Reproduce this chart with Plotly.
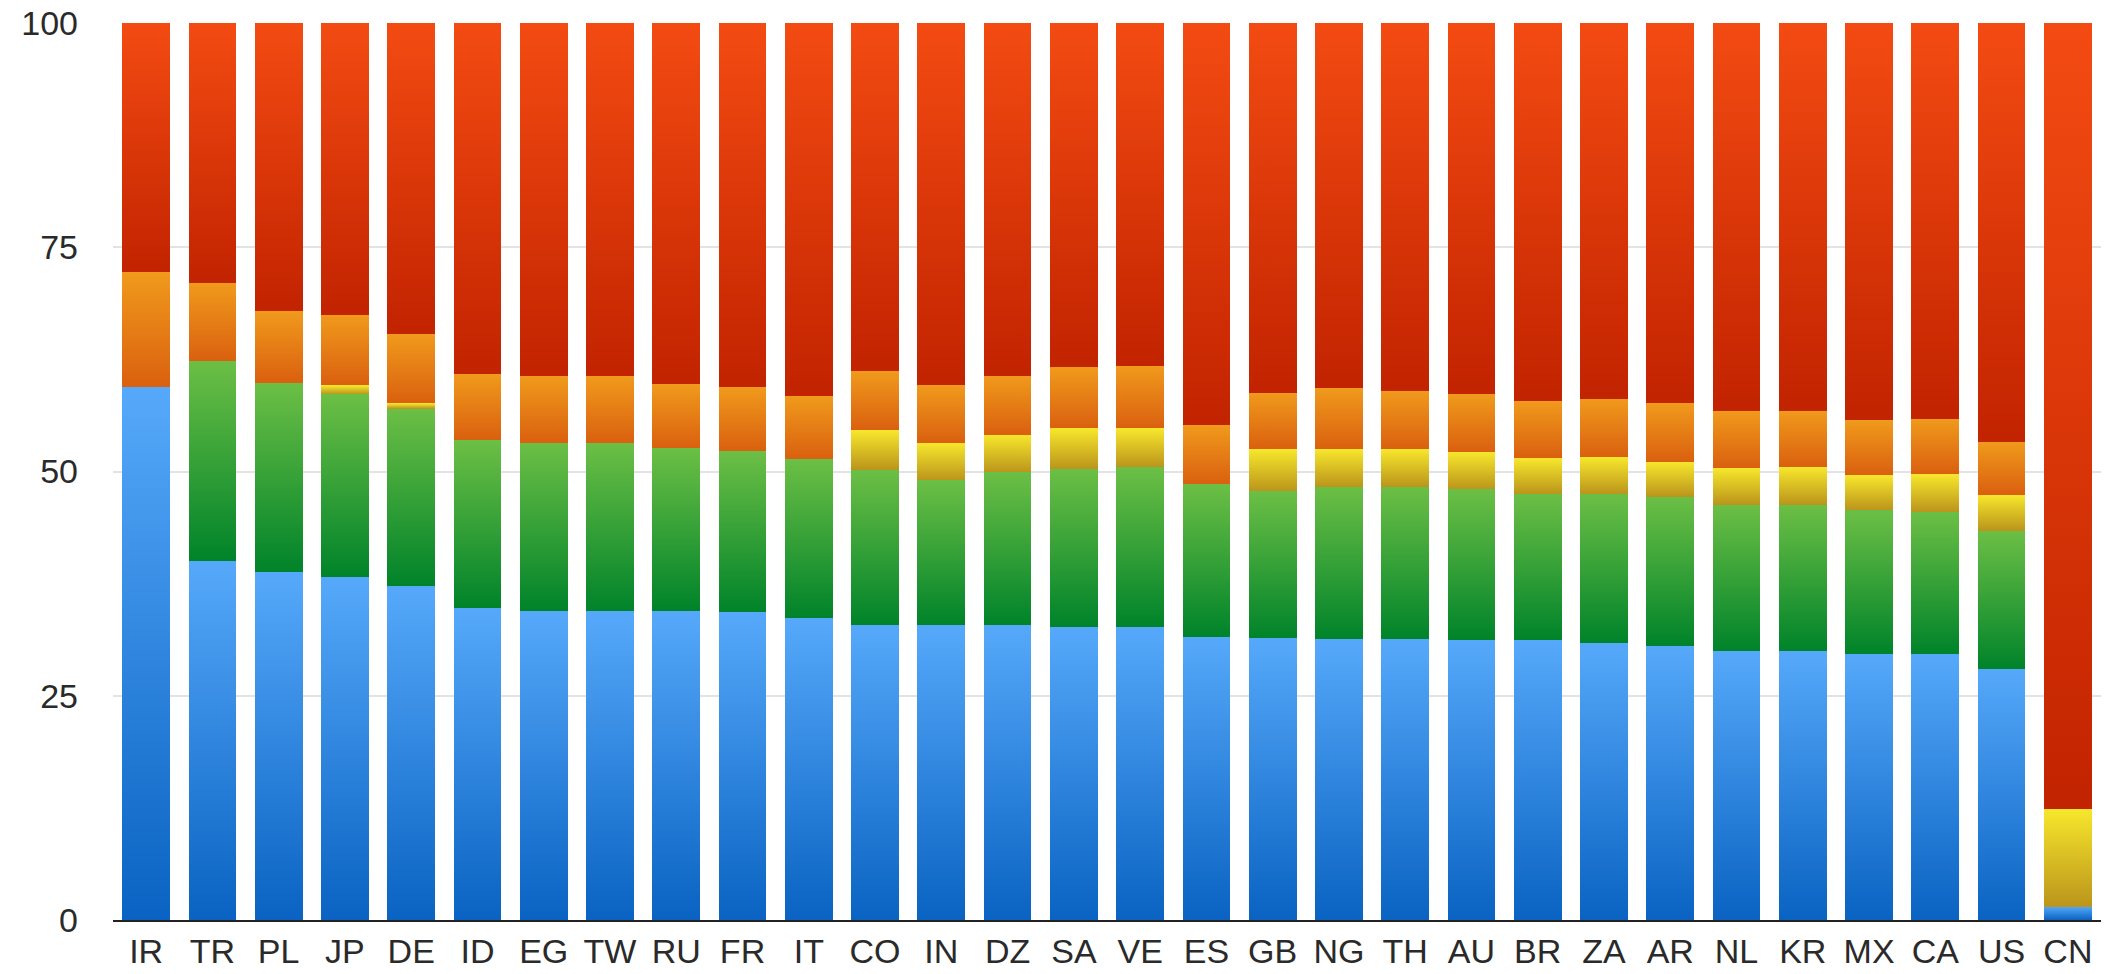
import plotly.graph_objects as go

categories = ["IR", "TR", "PL", "JP", "DE", "ID", "EG", "TW", "RU", "FR", "IT", "CO", "IN", "DZ", "SA",
              "VE", "ES", "GB", "NG", "TH", "AU", "BR", "ZA", "AR", "NL", "KR", "MX", "CA", "US", "CN"]

blue = [59.4, 40.0, 38.8, 38.2, 37.2, 34.8, 34.5, 34.4, 34.5, 34.3, 33.7, 32.9, 32.9, 32.9, 32.7,
        32.7, 31.6, 31.4, 31.3, 31.3, 31.2, 31.2, 30.9, 30.6, 30.0, 30.0, 29.7, 29.7, 28.0, 1.5]
green = [0.0, 22.3, 21.1, 20.4, 19.8, 18.7, 18.7, 18.8, 18.1, 18.0, 17.7, 17.3, 16.1, 17.0, 17.6,
         17.8, 17.0, 16.4, 17.0, 17.0, 16.8, 16.3, 16.6, 16.6, 16.3, 16.3, 16.0, 15.8, 15.4, 0.0]
yellow = [0.0, 0.0, 0.0, 1.0, 0.6, 0.0, 0.0, 0.0, 0.0, 0.0, 0.0, 4.4, 4.2, 4.2, 4.5,
          4.3, 0.0, 4.7, 4.2, 4.2, 4.2, 4.0, 4.1, 3.9, 4.1, 4.2, 3.9, 4.2, 4.0, 10.9]
orange = [12.8, 8.7, 8.0, 7.9, 7.7, 7.4, 7.4, 7.4, 7.1, 7.1, 7.0, 6.6, 6.4, 6.6, 6.8,
          7.0, 6.6, 6.3, 6.8, 6.5, 6.4, 6.4, 6.5, 6.5, 6.4, 6.3, 6.1, 6.2, 5.9, 0.0]
red = [27.8, 29.0, 32.1, 32.5, 34.7, 39.1, 39.4, 39.4, 40.3, 40.6, 41.6, 38.8, 40.4, 39.3, 38.4,
       38.2, 44.8, 41.2, 40.7, 41.0, 41.4, 42.1, 41.9, 42.4, 43.2, 43.2, 44.3, 44.1, 46.7, 87.6]

y_ticks = [0, 25, 50, 75, 100]

series = [("blue", blue), ("green", green), ("yellow", yellow), ("orange", orange), ("red", red)]
mid_colors = {"blue": "#3a8fe6", "green": "#3aa23a", "yellow": "#dcc024", "orange": "#e67e16", "red": "#d8330a"}
grad_stops = {"blue": ("#56a9fa", "#0a63c2"), "green": ("#6cbf45", "#00832a"),
              "yellow": ("#f7e72c", "#bb951b"), "orange": ("#f09a1c", "#da600f"),
              "red": ("#f34b12", "#c22300")}

fig = go.Figure()
for name, vals in series:
    fig.add_trace(go.Bar(x=categories, y=vals, name=name,
                         marker=dict(color=mid_colors[name], line=dict(width=0))))

fig.update_layout(
    barmode="stack", bargap=0.28, showlegend=False,
    width=2113, height=974,
    margin=dict(l=113, r=12, t=23, b=54),
    paper_bgcolor="white", plot_bgcolor="white",
    font=dict(family="Liberation Sans, Arial, sans-serif", size=34, color="#2a2a2a"),
    xaxis=dict(showline=True, linecolor="#222222", linewidth=2, ticks="", showgrid=False,
               tickfont=dict(size=34), automargin=False),
    yaxis=dict(range=[0, 100], tickvals=y_ticks, showgrid=True, gridcolor="#e3e3e3", gridwidth=1.5,
               zeroline=False, ticks="", ticklabelstandoff=34, tickfont=dict(size=34),
               automargin=False),
)

names = [n for n, _ in series]
stops_js = ",".join("['%s','%s']" % grad_stops[n] for n in names)
post = """
document.body.style.margin='0';
document.body.style.overflow='hidden';
var gd = document.getElementById('{plot_id}');
var STOPS = [%s];
function applyGrad(){
  var svg = gd.querySelector('svg.main-svg');
  if(!svg) return;
  var ns = 'http://www.w3.org/2000/svg';
  var defs = svg.querySelector('defs');
  if(!defs){ defs = document.createElementNS(ns,'defs'); svg.insertBefore(defs, svg.firstChild); }
  for(var i=0;i<STOPS.length;i++){
    if(document.getElementById('bargrad'+i)) continue;
    var lg = document.createElementNS(ns,'linearGradient');
    lg.setAttribute('id','bargrad'+i);
    lg.setAttribute('x1','0'); lg.setAttribute('y1','0');
    lg.setAttribute('x2','0'); lg.setAttribute('y2','1');
    var s1 = document.createElementNS(ns,'stop'); s1.setAttribute('offset','0'); s1.setAttribute('stop-color',STOPS[i][0]);
    var s2 = document.createElementNS(ns,'stop'); s2.setAttribute('offset','1'); s2.setAttribute('stop-color',STOPS[i][1]);
    lg.appendChild(s1); lg.appendChild(s2); defs.appendChild(lg);
  }
  var traces = gd.querySelectorAll('.barlayer .trace');
  traces.forEach(function(t,i){
    t.querySelectorAll('path').forEach(function(p){ p.style.fill='url(#bargrad'+i+')'; });
  });
}
applyGrad();
gd.on('plotly_afterplot', applyGrad);
""" % stops_js

fig.write_html("out.html", post_script=post, config={"displayModeBar": False})
